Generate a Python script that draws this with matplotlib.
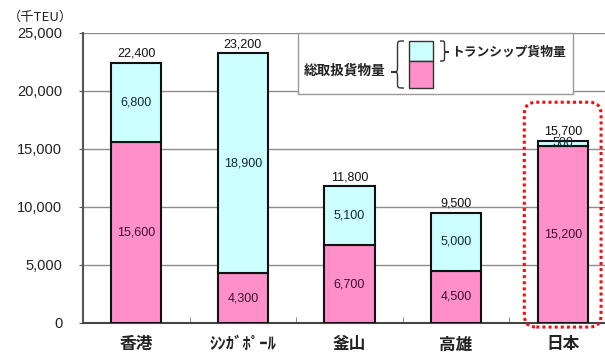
import numpy as np
import matplotlib.pyplot as plt
from matplotlib.patches import Rectangle, FancyBboxPatch, PathPatch
from matplotlib.path import Path
from matplotlib.ticker import FuncFormatter, FixedLocator

plt.rcParams['font.family'] = ['Liberation Sans', 'Noto Sans CJK JP', 'DejaVu Sans']

ports = ['香港', 'ｼﾝｶﾞﾎﾟｰﾙ', '釜山', '高雄', '日本']
total = [22400, 23200, 11800, 9500, 15700]          # 総取扱貨物量
tranship = [6800, 18900, 5100, 5000, 500]           # トランシップ貨物量
other = [t - s for t, s in zip(total, tranship)]    # 15,600 / 4,300 / 6,700 / 4,500 / 15,200
yticks = [0, 5000, 10000, 15000, 20000, 25000]
unit = '（千TEU）'
legend_total = '総取扱貨物量'
legend_tranship = 'トランシップ貨物量'

PINK = '#ff8fc8'
CYAN = '#ccffff'
W, H = 605, 358

fig = plt.figure(figsize=(W / 100, H / 100), dpi=100)
ax = fig.add_axes([83 / W, 35 / H, (616 - 83) / W, 290.5 / H])


def fx(px, py):
    # pixel position (top-left origin) -> figure fraction
    return px / W, 1 - py / H


x = np.arange(len(ports))
bw = 0.47
ax.bar(x, other, bw, color=PINK, edgecolor='#111111', linewidth=1.5, zorder=3)
ax.bar(x, tranship, bw, bottom=other, color=CYAN, edgecolor='#111111', linewidth=1.5, zorder=3)

fmt = lambda v: f'{v:,}'
for i in x:
    ax.text(i, other[i] / 2, fmt(other[i]), ha='center', va='center', fontsize=9,
            color='#3a1030', zorder=4)
    ax.text(i, other[i] + tranship[i] / 2, fmt(tranship[i]), ha='center', va='center',
            fontsize=9, color='#102a3a', zorder=4)
    ax.annotate(fmt(total[i]), (i, total[i]), xytext=(0, 2), textcoords='offset points',
                ha='center', va='bottom', fontsize=9, color='#111111', zorder=4)

ax.set_xlim(-0.5, len(ports) - 0.5)
ax.set_ylim(0, 25000)
ax.set_yticks(yticks)
ax.yaxis.set_major_formatter(FuncFormatter(lambda v, p: f'{int(v):,}'))
ax.grid(axis='y', color='#8c8c8c', linewidth=1.0, zorder=0)
ax.set_axisbelow(True)

ax.set_xticks(x)
ax.set_xticklabels(ports, family=['Noto Sans CJK JP', 'DejaVu Sans'], fontsize=12,
                   fontweight='bold', color='#222222')
ax.xaxis.set_minor_locator(FixedLocator(x[:-1] + 0.5))
ax.tick_params(axis='x', which='major', length=0, pad=9)
ax.tick_params(axis='x', which='minor', direction='in', length=4, color='#777777')
ax.tick_params(axis='y', length=3, color='#555555', labelsize=10.5, labelcolor='#222222', pad=12)

for s in ('top', 'right'):
    ax.spines[s].set_visible(False)
ax.spines['left'].set_color('#555555')
ax.spines['left'].set_linewidth(1.5)
ax.spines['bottom'].set_color('#444444')
ax.spines['bottom'].set_linewidth(1.5)

fig.text(*fx(8, 17), unit, family=['Noto Sans CJK JP', 'DejaVu Sans'], fontsize=9.5,
         ha='left', va='center', color='#222222')

# red dotted frame around 日本
fig.canvas.draw()
j = len(ports) - 1
x0, y0 = ax.transData.transform((j - 0.36, -350))
x1, y1 = ax.transData.transform((j + 0.36, total[j] + 3300))
frame = FancyBboxPatch((x0, y0), x1 - x0, y1 - y0, boxstyle='round,pad=0,rounding_size=12',
                       transform=None, facecolor='none', edgecolor='#ee1111',
                       linestyle=(0, (1, 1)), linewidth=2.2, clip_on=False, zorder=6)
fig.add_artist(frame)

# legend box
lx0, ly1 = fx(298, 33)
lx1, ly0 = fx(573, 94)
fig.add_artist(Rectangle((lx0, ly0), lx1 - lx0, ly1 - ly0, transform=fig.transFigure,
                         facecolor='white', edgecolor='#9a9a9a', linewidth=1.0, zorder=7))
sx0, sy_top = fx(409, 41)
sx1, sy_mid = fx(433, 61)
_, sy_bot = fx(433, 88)
fig.add_artist(Rectangle((sx0, sy_mid), sx1 - sx0, sy_top - sy_mid, transform=fig.transFigure,
                         facecolor=CYAN, edgecolor='#333333', linewidth=1.0, zorder=8))
fig.add_artist(Rectangle((sx0, sy_bot), sx1 - sx0, sy_mid - sy_bot, transform=fig.transFigure,
                         facecolor=PINK, edgecolor='#333333', linewidth=1.0, zorder=8))


def brace(x_end, x_tip, y_top, y_bot, y_tip):
    xm = (x_end + x_tip) / 2
    q = min(y_tip - y_top, y_bot - y_tip) * 0.35
    pts = [(x_end, y_top), (xm, y_top), (xm, y_top), (xm, y_top + q),
           (xm, y_tip - q),
           (xm, y_tip), (xm, y_tip), (x_tip, y_tip),
           (xm, y_tip), (xm, y_tip), (xm, y_tip + q),
           (xm, y_bot - q),
           (xm, y_bot), (xm, y_bot), (x_end, y_bot)]
    codes = [Path.MOVETO, Path.CURVE4, Path.CURVE4, Path.CURVE4,
             Path.LINETO,
             Path.CURVE4, Path.CURVE4, Path.CURVE4,
             Path.CURVE4, Path.CURVE4, Path.CURVE4,
             Path.LINETO,
             Path.CURVE4, Path.CURVE4, Path.CURVE4]
    verts = [fx(px, py) for px, py in pts]
    fig.add_artist(PathPatch(Path(verts, codes), transform=fig.transFigure, facecolor='none',
                             edgecolor='#333333', linewidth=1.0, zorder=8))


brace(404, 391, 41, 88, 72)
brace(440, 449, 41, 61, 52)

fig.text(*fx(345, 71), legend_total, family=['Noto Sans CJK JP', 'DejaVu Sans'], fontsize=9.8,
         fontweight='bold', ha='center', va='center', color='#222222', zorder=9)
fig.text(*fx(451, 52), legend_tranship, family=['Noto Sans CJK JP', 'DejaVu Sans'], fontsize=9.2,
         fontweight='bold', ha='left', va='center', color='#222222', zorder=9)

fig.savefig('out.png', dpi=100)
